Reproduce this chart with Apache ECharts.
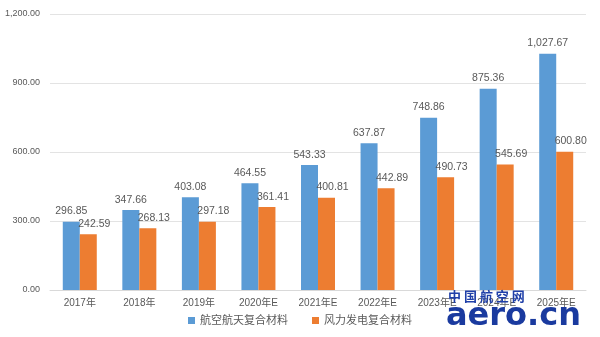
<!DOCTYPE html>
<html><head><meta charset="utf-8">
<script src="https://cdn.jsdelivr.net/npm/echarts@6/dist/echarts.min.js"></script>
<style>html,body{margin:0;padding:0;background:#fff}#c{width:600px;height:337px}</style>
</head><body><div id="c"></div>
<script>
const categories = ['2017年','2018年','2019年','2020年E','2021年E','2022年E','2023年E','2024年E','2025年E'];
const aerospace = [296.85,347.66,403.08,464.55,543.33,637.87,748.86,875.36,1027.67];
const wind = [242.59,268.13,297.18,361.41,400.81,442.89,490.73,545.69,600.80];
const seriesNames = ['航空航天复合材料','风力发电复合材料'];
const fmt = v => Number(v).toLocaleString('en-US',{minimumFractionDigits:2,maximumFractionDigits:2});
const chart = echarts.init(document.getElementById('c'));
const font = '"Liberation Sans","Noto Sans CJK SC",sans-serif';
chart.setOption({
  animation:false,
  textStyle:{fontFamily:font},
  grid:{left:50,right:14,top:14,bottom:47},
  legend:{bottom:6,left:'center',itemWidth:7,itemHeight:7,itemGap:24,icon:'rect',
    textStyle:{color:'#595959',fontSize:11,fontFamily:font},data:seriesNames},
  xAxis:{type:'category',data:categories,
    axisLine:{lineStyle:{color:'#d9d9d9'}},axisTick:{show:false},
    axisLabel:{color:'#595959',fontSize:10,margin:8}},
  yAxis:{type:'value',min:0,max:1200,interval:300,
    axisLine:{show:false},axisTick:{show:false},
    splitLine:{lineStyle:{color:'#e3e3e3'}},
    axisLabel:{color:'#595959',fontSize:9,margin:10,formatter:fmt}},
  series:[
    {name:seriesNames[0],type:'bar',data:aerospace,barWidth:17,barGap:'0%',
     itemStyle:{color:'#5B9BD5'},
     label:{show:true,position:'top',color:'#595959',fontSize:10.5,formatter:p=>fmt(p.value)}},
    {name:seriesNames[1],type:'bar',data:wind,barWidth:17,
     itemStyle:{color:'#ED7D31'},
     label:{show:true,position:'top',offset:[6,0],color:'#595959',fontSize:10.5,formatter:p=>fmt(p.value)}}
  ],
  graphic:[
    {type:'text',left:448,top:290,z:100,style:{text:'中 国 航 空 网',fill:'#1f3fa8',font:'bold 13px "Noto Sans CJK SC",sans-serif'}},
    {type:'text',left:446,top:301,z:100,style:{text:'aero.cn',fill:'#1a3a9f',font:'bold 32px "DejaVu Sans",sans-serif'}}
  ]
});
</script></body></html>
